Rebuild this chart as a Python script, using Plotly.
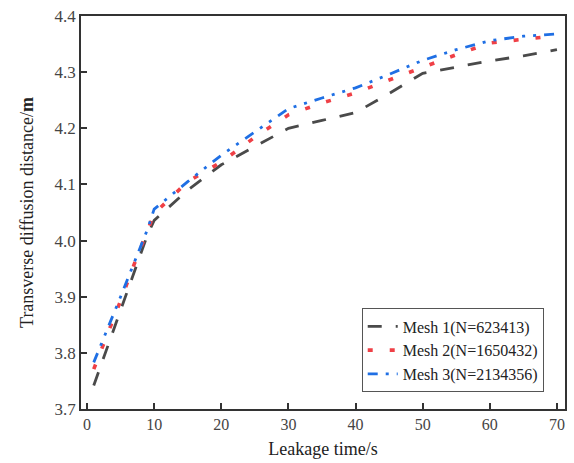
import plotly.graph_objects as go

time_s = [1, 3, 5, 7, 9, 10, 15, 20, 25, 30, 35, 40, 45, 50, 55, 60, 65, 70]
mesh1 = [3.742, 3.81, 3.875, 3.945, 4.01, 4.036, 4.09, 4.135, 4.168, 4.2, 4.214, 4.228, 4.262, 4.298, 4.309, 4.32, 4.329, 4.34]
mesh2 = [3.771, 3.83, 3.893, 3.957, 4.02, 4.048, 4.105, 4.14, 4.184, 4.224, 4.245, 4.263, 4.286, 4.309, 4.331, 4.352, 4.358, 4.365]
mesh3 = [3.783, 3.84, 3.9, 3.96, 4.02, 4.056, 4.105, 4.152, 4.194, 4.235, 4.254, 4.272, 4.296, 4.321, 4.34, 4.356, 4.364, 4.368]
names = ["Mesh 1(N=623413)", "Mesh 2(N=1650432)", "Mesh 3(N=2134356)"]
y_ticks = [3.7, 3.8, 3.9, 4.0, 4.1, 4.2, 4.3, 4.4]
x_ticks = [0, 10, 20, 30, 40, 50, 60, 70]

serif = "Liberation Serif, Times New Roman, serif"

fig = go.Figure()
fig.add_trace(go.Scatter(x=time_s, y=mesh1, mode="lines", name=names[0],
                         line=dict(color="#4a4a4a", width=2.8, dash="14px,14px")))
fig.add_trace(go.Scatter(x=time_s, y=mesh2, mode="lines", name=names[1],
                         line=dict(color="#ef4046", width=3.6, dash="5px,17px")))
fig.add_trace(go.Scatter(x=time_s, y=mesh3, mode="lines", name=names[2],
                         line=dict(color="#1f6fe4", width=2.8, dash="10px,8px,3px,8px,3px,8px")))

fig.update_layout(
    width=574, height=463,
    margin=dict(l=81, r=7, t=16, b=53),
    paper_bgcolor="white", plot_bgcolor="white",
    font=dict(family=serif, size=16, color="#333333"),
    showlegend=True,
    legend=dict(x=0.58, y=0.256, xanchor="left", yanchor="top",
                bordercolor="#555555", borderwidth=1, bgcolor="white",
                font=dict(family=serif, size=16, color="#222222"),
                tracegroupgap=0, itemwidth=30),
    xaxis=dict(range=[-0.9, 71.2], tickvals=x_ticks, ticks="inside", ticklen=6,
               tickwidth=1.5, tickcolor="#333333", showline=True, linecolor="#333333",
               linewidth=1.5, mirror=True, showgrid=False, zeroline=False,
               tickfont=dict(family=serif, size=16, color="#444444"),
               title=dict(text="Leakage time/s", font=dict(family=serif, size=18, color="#222222"), standoff=10)),
    yaxis=dict(range=[3.7, 4.4], tickvals=y_ticks, tickformat=".1f", ticks="inside", ticklen=6,
               tickwidth=1.5, tickcolor="#333333", showline=True, linecolor="#333333",
               linewidth=1.5, mirror=True, showgrid=False, zeroline=False,
               tickfont=dict(family=serif, size=17, color="#444444"),
               title=dict(text="Transverse diffusion distance/<b>m</b>", font=dict(family=serif, size=18, color="#222222"), standoff=16)),
)

fig.write_html("out.html")
